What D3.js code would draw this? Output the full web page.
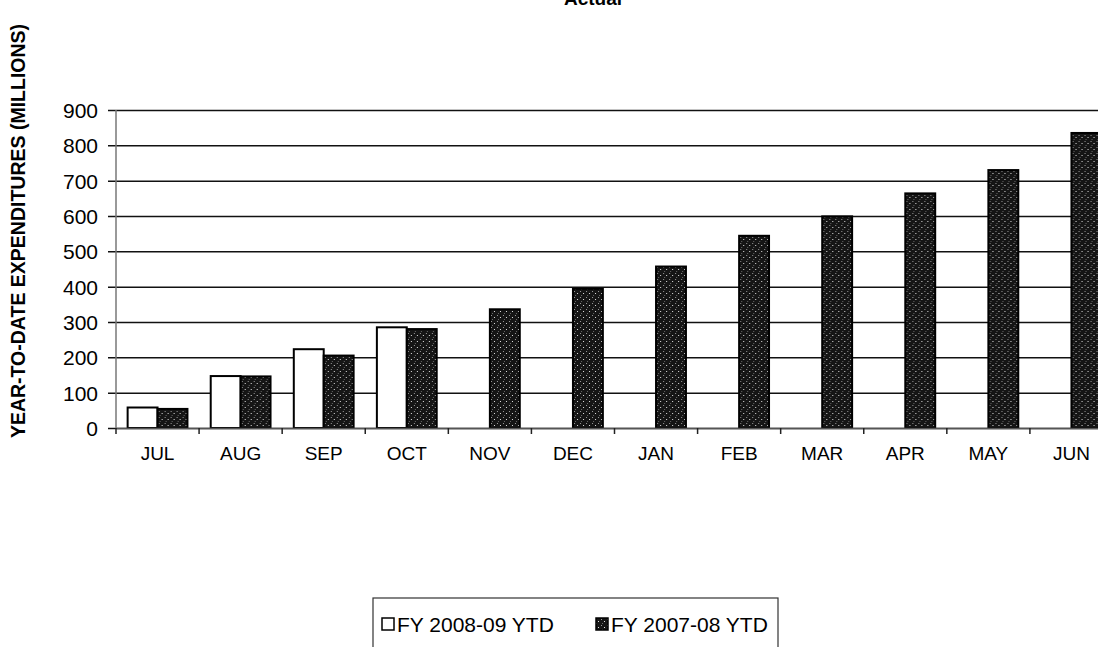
<!DOCTYPE html>
<html>
<head>
<meta charset="utf-8">
<script src="https://cdn.jsdelivr.net/npm/d3@7"></script>
<style>
  body { margin: 0; background: #fff; }
  text { font-family: Arial, "Liberation Sans", sans-serif; fill: #000; }
</style>
</head>
<body>
<div id="chart"></div>
<script>
var svgWidth = 1098;
var svgHeight = 647;

// data
var months = ["JUL", "AUG", "SEP", "OCT", "NOV", "DEC", "JAN", "FEB", "MAR", "APR", "MAY", "JUN"];
var seriesNames = ["FY 2008-09 YTD", "FY 2007-08 YTD"];
var fy0809 = [58, 147, 223, 285, null, null, null, null, null, null, null, null];
var fy0708 = [54, 146, 205, 280, 336, 394, 457, 544, 599, 664, 730, 835];
var yTicks = [0, 100, 200, 300, 400, 500, 600, 700, 800, 900];

var margin = { top: 110, left: 116, right: -15, bottom: 219 };
var width = svgWidth - margin.left - margin.right;
var height = svgHeight - margin.top - margin.bottom;

var svg = d3.select("#chart")
  .append("svg")
  .attr("width", svgWidth)
  .attr("height", svgHeight);

// speckled dark fill
var defs = svg.append("defs");
var pat = defs.append("pattern")
  .attr("id", "speckle")
  .attr("patternUnits", "userSpaceOnUse")
  .attr("width", 6)
  .attr("height", 6);
pat.append("rect").attr("width", 6).attr("height", 6).attr("fill", "#151515");
pat.append("rect").attr("x", 1).attr("y", 1).attr("width", 1).attr("height", 1).attr("fill", "#9a9a9a");
pat.append("rect").attr("x", 4).attr("y", 3).attr("width", 1).attr("height", 1).attr("fill", "#e0e0e0");
pat.append("rect").attr("x", 2).attr("y", 5).attr("width", 1).attr("height", 1).attr("fill", "#666");

var chartGroup = svg.append("g")
  .attr("transform", `translate(${margin.left}, ${margin.top})`);

var x0 = d3.scaleBand()
  .domain(months)
  .range([0, width])
  .paddingInner(0.28)
  .paddingOuter(0.14);

var x1 = d3.scaleBand()
  .domain(seriesNames)
  .range([0, x0.bandwidth()]);

var y = d3.scaleLinear()
  .domain([0, 900])
  .range([height, 0]);

// gridlines with the y tick marks
var leftAxis = d3.axisLeft(y)
  .tickValues(yTicks)
  .tickSize(-width - 8)
  .tickSizeOuter(0)
  .tickFormat(d3.format("d"));

var yAxis = chartGroup.append("g")
  .attr("transform", "translate(-8,0)")
  .call(leftAxis);
yAxis.select(".domain").remove();
yAxis.selectAll(".tick line")
  .attr("stroke", "#111")
  .attr("stroke-width", 1.5);
yAxis.selectAll(".tick text")
  .attr("x", -10)
  .attr("dy", "0.36em")
  .attr("font-size", "21px")
  .attr("text-anchor", "end");

// bars
var rows = months.map(function(m, i) {
  return { month: m, values: [fy0809[i], fy0708[i]] };
});

var groups = chartGroup.selectAll(".month")
  .data(rows)
  .enter()
  .append("g")
  .attr("transform", d => `translate(${x0(d.month)},0)`);

groups.selectAll("rect")
  .data(d => d.values.map((v, j) => ({ name: seriesNames[j], value: v })).filter(d => d.value != null))
  .enter()
  .append("rect")
  .attr("x", d => x1(d.name))
  .attr("y", d => y(d.value))
  .attr("width", x1.bandwidth())
  .attr("height", d => height - y(d.value))
  .attr("fill", d => d.name === seriesNames[0] ? "#fff" : "url(#speckle)")
  .attr("stroke", "#000")
  .attr("stroke-width", 2);

// axes lines
chartGroup.append("line")
  .attr("x1", 0).attr("x2", 0)
  .attr("y1", 0).attr("y2", height)
  .attr("stroke", "#777")
  .attr("stroke-width", 1.5);

var bottomAxis = d3.axisBottom(x0)
  .tickSize(0)
  .tickPadding(19);

var xAxis = chartGroup.append("g")
  .attr("transform", `translate(0, ${height})`)
  .call(bottomAxis);
xAxis.select(".domain")
  .attr("stroke", "#555")
  .attr("stroke-width", 1.5);
xAxis.selectAll("text")
  .attr("font-size", "19px");

// category boundary ticks
chartGroup.selectAll(".cat-tick")
  .data(months)
  .enter()
  .append("line")
  .attr("x1", d => x0(d) - x0.step() * 0.14)
  .attr("x2", d => x0(d) - x0.step() * 0.14)
  .attr("y1", height)
  .attr("y2", height + 6)
  .attr("stroke", "#222")
  .attr("stroke-width", 1.5);

// title and y label
svg.append("text")
  .attr("x", 593)
  .attr("y", 5)
  .attr("text-anchor", "middle")
  .attr("font-size", "19px")
  .attr("font-weight", "bold")
  .text("Actual");

svg.append("text")
  .attr("transform", "translate(25, 231) rotate(-90)")
  .attr("text-anchor", "middle")
  .attr("font-size", "19.5px")
  .attr("font-weight", "bold")
  .text("YEAR-TO-DATE EXPENDITURES (MILLIONS)");

// legend
var legend = svg.append("g");
legend.append("rect")
  .attr("x", 373)
  .attr("y", 598)
  .attr("width", 405)
  .attr("height", 60)
  .attr("fill", "#fff")
  .attr("stroke", "#333")
  .attr("stroke-width", 1.2);

var legendX = [382, 596];
seriesNames.forEach(function(name, i) {
  legend.append("rect")
    .attr("x", legendX[i])
    .attr("y", 618)
    .attr("width", 12)
    .attr("height", 12)
    .attr("fill", i === 0 ? "#fff" : "url(#speckle)")
    .attr("stroke", "#000")
    .attr("stroke-width", 1.5);
  legend.append("text")
    .attr("x", legendX[i] + 15)
    .attr("y", 632)
    .attr("font-size", "21px")
    .text(name);
});
</script>
</body>
</html>
